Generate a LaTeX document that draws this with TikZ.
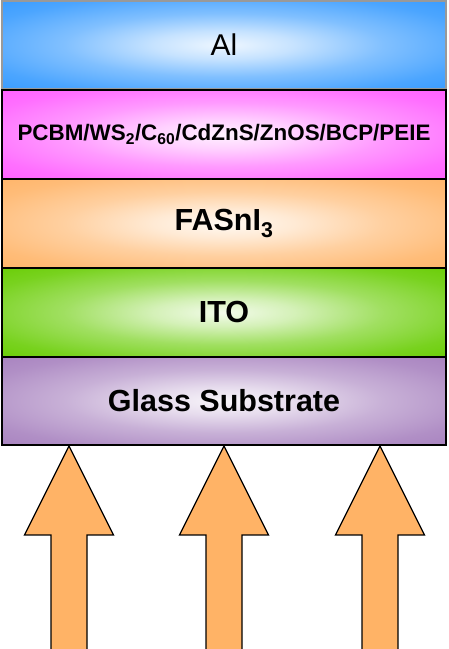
\documentclass[tikz,border=0pt]{standalone}
\usepackage{fontspec}
\setmainfont{Liberation Sans}
\definecolor{cAl}{HTML}{3399FF}
\definecolor{cPC}{HTML}{FF5CFF}
\definecolor{cFA}{HTML}{FFB366}
\definecolor{cIT}{HTML}{66CC00}
\definecolor{cGL}{HTML}{A680BE}
\newcommand{\mkshade}[2]{%
  \pgfdeclareradialshading{#1}{\pgfpoint{0bp}{0bp}}{%
    color(0bp)=(#2!8!white); color(8bp)=(#2!28!white);
    color(18bp)=(#2!62!white); color(29bp)=(#2!88!white);
    color(38bp)=(#2); color(80bp)=(#2)}}
\mkshade{shAl}{cAl}
\mkshade{shPC}{cPC}
\mkshade{shFA}{cFA}
\mkshade{shIT}{cIT}
\mkshade{shGL}{cGL}
\tikzset{
  layer/.style={draw=black, line width=1.4pt, minimum width=444pt,
    minimum height=89pt, inner sep=0pt, outer sep=0pt, anchor=center},
  bigtxt/.style={font=\fontsize{30.5}{34}\selectfont\bfseries},
  blockarrow/.style={draw=black, line width=1.3pt, fill=cFA, line join=miter}
}
\begin{document}
\begin{tikzpicture}[x=1pt,y=1pt]
\useasboundingbox (0,0) rectangle (448,649);
\node[layer, draw=gray!80, minimum height=88pt, shading=shAl,
  font=\fontsize{30}{34}\selectfont] (al) at (224,604) {Al};
\node[layer, shading=shPC, font=\fontsize{22.4}{26}\selectfont\bfseries] (pc) at (224,514.5)
  {PCBM/WS\textsubscript{2}/C\textsubscript{60}/CdZnS/ZnOS/BCP/PEIE};
\node[layer, shading=shFA, bigtxt] (fa) at (224,425.5) {FASnI\textsubscript{3}};
\node[layer, shading=shIT, bigtxt] (ito) at (224,336.5) {ITO};
\node[layer, minimum height=88pt, shading=shGL, bigtxt] (gl) at (224,248) {Glass Substrate};
\foreach \cx/\nm in {69/a1, 224/a2, 380/a3}{
  \coordinate (\nm) at (\cx, 203);
  \draw[blockarrow] (\nm) -- ++(44.5,-89) -- ++(-26.5,0) -- ++(0,-120)
     -- ++(-36,0) -- ++(0,120) -- ++(-26.5,0) -- cycle;
}
\end{tikzpicture}
\end{document}
